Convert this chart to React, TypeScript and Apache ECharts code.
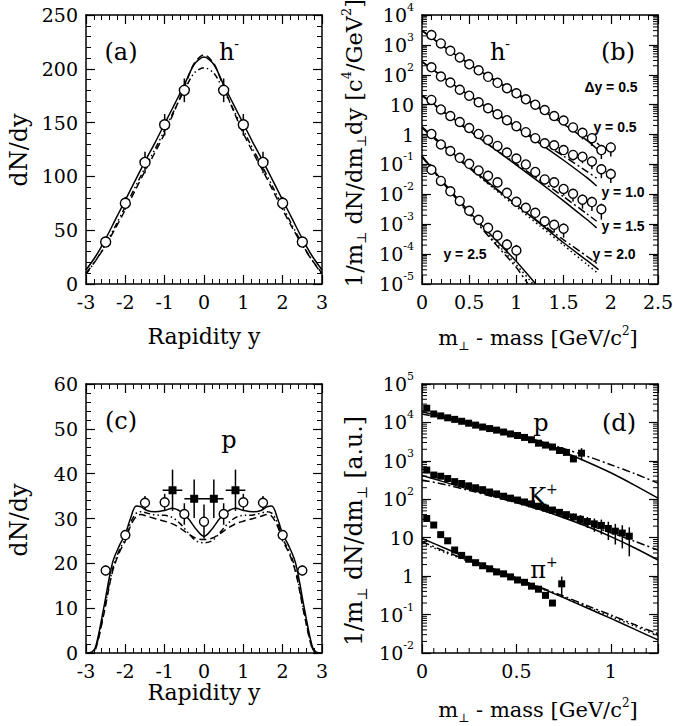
import React, { useEffect, useRef } from 'react';
import * as echarts from 'echarts';

const SERIF = '"DejaVu Serif", "Liberation Serif", serif';
const SANS = '"Liberation Sans", Arial, sans-serif';
const INK = '#000';

// ---------------- Panel (a): h- dN/dy vs rapidity ----------------
const aCurveX = [-3, -2.75, -2.5, -2.25, -2, -1.75, -1.5, -1.25, -1, -0.75, -0.5, -0.25, 0, 0.25, 0.5, 0.75, 1, 1.25, 1.5, 1.75, 2, 2.25, 2.5, 2.75, 3];
const aSolid = [13, 26, 42, 60, 78, 96, 114, 131, 149, 167, 185, 204, 211, 204, 185, 167, 149, 131, 114, 96, 78, 60, 42, 26, 13];
const aDashed = [10, 22, 36, 52, 69, 87, 105, 122, 140, 161, 183, 205, 213, 205, 183, 161, 140, 122, 105, 87, 69, 52, 36, 22, 10];
const aDashDot = [9, 22, 37, 54, 72, 90, 108, 125, 143, 162, 180, 196, 201, 196, 180, 162, 143, 125, 108, 90, 72, 54, 37, 22, 9];
const aDataX = [-2.5, -2, -1.5, -1, -0.5, 0.5, 1, 1.5, 2, 2.5];
const aDataY = [39, 75, 113, 148, 180, 180, 148, 113, 75, 39];
const aDataErr = [3, 6, 10, 10, 11, 11, 10, 10, 6, 3];

// ---------------- Panel (b): h- mT spectra (log10 values) ----------------
const bMtX = [0.1, 0.2, 0.3, 0.4, 0.5, 0.6, 0.7, 0.8, 0.9, 1.0, 1.1, 1.2, 1.3, 1.4, 1.5, 1.6, 1.7, 1.8, 1.9, 2.0];
const bLogY05 = [3.33, 3.05, 2.8, 2.58, 2.35, 2.15, 1.93, 1.73, 1.55, 1.38, 1.18, 1.0, 0.82, 0.62, 0.47, 0.24, 0.06, -0.12, -0.52, -0.43];
const bLogY10 = [2.25, 1.94, 1.74, 1.5, 1.3, 1.08, 0.88, 0.68, 0.48, 0.28, 0.08, -0.12, -0.29, -0.36, -0.52, -0.68, -0.74, -0.9, -1.16, -1.32];
const bLogY15 = [1.16, 0.84, 0.62, 0.42, 0.22, 0.02, -0.18, -0.38, -0.6, -0.8, -1.0, -1.25, -1.5, -1.6, -1.82, -1.98, -2.18, -2.26, -2.5];
const bLogY20 = [0.02, -0.33, -0.55, -0.78, -0.98, -1.2, -1.38, -1.6, -1.95, -2.25, -2.45, -2.62, -2.9, -3.02, -3.15];
const bLogY25 = [-1.18, -1.55, -1.9, -2.22, -2.55, -2.85, -3.12, -3.38, -3.68, -3.88];
const bErr05 = [0, 0, 0, 0, 0, 0, 0, 0, 0, 0, 0, 0, 0, 0, 0, 0.3, 0.4, 0.45, 0.5, 0.5];
const bErr10 = [0, 0, 0, 0, 0, 0, 0, 0, 0, 0, 0, 0, 0, 0, 0.3, 0.35, 0.4, 0.45, 0.5, 0.5];
const bErr15 = [0, 0, 0, 0, 0, 0, 0, 0, 0, 0, 0, 0, 0.3, 0.35, 0.4, 0.45, 0.5, 0.5, 0.55];
const bErr20 = [0, 0, 0, 0, 0, 0, 0, 0, 0, 0, 0.3, 0.35, 0.4, 0.45, 0.5];
const bErr25 = [0, 0, 0, 0, 0, 0, 0.35, 0.4, 0.5, 0.55];
// model curves: [mT - m, log10 value]
const bSolid05 = [[0, 3.48], [0.25, 2.9], [0.5, 2.36], [0.75, 1.85], [1, 1.36], [1.25, 0.86], [1.5, 0.35], [1.75, -0.2], [1.88, -0.55]];
const bAlt05 = [[0, 3.48], [0.25, 2.9], [0.5, 2.37], [0.75, 1.87], [1, 1.39], [1.25, 0.92], [1.5, 0.44], [1.75, -0.05], [1.88, -0.35]];
const bSolid10 = [[0, 2.44], [0.25, 1.86], [0.5, 1.3], [0.75, 0.77], [1, 0.24], [1.25, -0.3], [1.5, -0.86], [1.75, -1.45], [1.85, -1.72]];
const bAlt10 = [[0, 2.44], [0.25, 1.86], [0.5, 1.31], [0.75, 0.79], [1, 0.28], [1.25, -0.22], [1.5, -0.72], [1.75, -1.24], [1.85, -1.46]];
const bSolid15 = [[0, 1.32], [0.25, 0.72], [0.5, 0.14], [0.75, -0.44], [1, -1.02], [1.25, -1.61], [1.5, -2.22], [1.75, -2.85], [1.85, -3.12]];
const bAlt15 = [[0, 1.3], [0.25, 0.7], [0.5, 0.12], [0.75, -0.44], [1, -0.98], [1.25, -1.53], [1.5, -2.08], [1.75, -2.66], [1.85, -2.9]];
const bSolid20 = [[0, 0.26], [0.25, -0.42], [0.5, -1.08], [0.75, -1.72], [1, -2.35], [1.25, -2.98], [1.5, -3.62], [1.75, -4.22], [1.87, -4.52]];
const bAlt20 = [[0, 0.22], [0.25, -0.46], [0.5, -1.12], [0.75, -1.75], [1, -2.35], [1.25, -2.95], [1.5, -3.52], [1.75, -4.08], [1.87, -4.35]];
const bDot20 = [[0, 0.24], [0.25, -0.44], [0.5, -1.12], [0.75, -1.78], [1, -2.42], [1.25, -3.06], [1.5, -3.7], [1.75, -4.35], [1.87, -4.66]];
const bSolid25 = [[0, -0.72], [0.25, -1.68], [0.5, -2.58], [0.75, -3.42], [1, -4.25], [1.2, -4.98]];
const bAlt25 = [[0, -0.75], [0.25, -1.72], [0.5, -2.66], [0.75, -3.56], [1, -4.45], [1.12, -4.98]];
const bDot25 = [[0, -0.74], [0.25, -1.7], [0.5, -2.62], [0.75, -3.5], [1, -4.36], [1.17, -4.98]];

// ---------------- Panel (c): p dN/dy vs rapidity ----------------
const cCurveX = [-3, -2.85, -2.75, -2.55, -2.33, -2.15, -2, -1.87, -1.72, -1.6, -1.45, -1.25, -1, -0.8, -0.6, -0.4, -0.2, 0, 0.2, 0.4, 0.6, 0.8, 1, 1.25, 1.45, 1.6, 1.72, 1.87, 2, 2.15, 2.33, 2.55, 2.75, 2.85, 3];
const cSolid = [0, 0.2, 1.5, 10, 20, 24, 26.5, 30, 32.8, 32.6, 31.8, 31.5, 31.8, 32.3, 31.6, 30, 27.6, 26, 27.6, 30, 31.6, 32.3, 31.8, 31.5, 31.8, 32.6, 32.8, 30, 26.5, 24, 20, 10, 1.5, 0.2, 0];
const cDashed = [0, 0.1, 1, 8.5, 18, 22.5, 25, 28.3, 30.5, 30.9, 30.5, 30, 29.4, 28.8, 27.8, 26.6, 25.6, 25.3, 25.6, 26.6, 27.8, 28.8, 29.4, 30, 30.5, 30.9, 30.5, 28.3, 25, 22.5, 18, 8.5, 1, 0.1, 0];
const cDashDot = [0, 0.1, 1.2, 9, 18.5, 23, 25.5, 29, 31.2, 31.5, 31.2, 30.8, 30.7, 30.2, 28.8, 26.8, 25, 24.6, 25, 26.8, 28.8, 30.2, 30.7, 30.8, 31.2, 31.5, 31.2, 29, 25.5, 23, 18.5, 9, 1.2, 0.1, 0];
const cCircX = [-2.5, -2, -1.5, -1, -0.5, 0, 0.5, 1, 1.5, 2, 2.5];
const cCircY = [18.4, 26.3, 33.5, 33.6, 31.0, 29.3, 31.0, 33.6, 33.5, 26.3, 18.4];
const cCircErr = [1.1, 0.8, 1.5, 1.9, 2.4, 3.8, 2.4, 1.9, 1.5, 0.8, 1.1];
const cSqX = [-0.8, -0.25, 0.25, 0.8];
const cSqY = [36.3, 34.4, 34.4, 36.3];
const cSqXErr = [0.25, 0.25, 0.25, 0.25];
const cSqYErr = [4.6, 4.3, 4.3, 4.6];

// ---------------- Panel (d): p, K+, pi+ mT spectra (log10 values) ----------------
const dPX = [0.025, 0.062, 0.099, 0.136, 0.173, 0.21, 0.247, 0.284, 0.321, 0.358, 0.395, 0.432, 0.469, 0.506, 0.543, 0.58, 0.617, 0.654, 0.691, 0.728, 0.765, 0.802, 0.845];
const dPLog = [4.37, 4.22, 4.17, 4.12, 4.08, 4.03, 3.98, 3.93, 3.88, 3.84, 3.8, 3.75, 3.7, 3.66, 3.61, 3.55, 3.46, 3.41, 3.36, 3.27, 3.22, 3.05, 3.2];
const dPErr = [0, 0, 0, 0, 0, 0, 0, 0, 0, 0, 0, 0, 0, 0, 0, 0, 0, 0, 0, 0, 0, 0, 0.35];
const dKX = [0.025, 0.062, 0.099, 0.136, 0.173, 0.21, 0.247, 0.284, 0.321, 0.358, 0.395, 0.432, 0.469, 0.506, 0.543, 0.58, 0.617, 0.654, 0.691, 0.728, 0.765, 0.802, 0.839, 0.876, 0.913, 0.95, 0.987, 1.024, 1.061, 1.098];
const dKLog = [2.76, 2.63, 2.6, 2.54, 2.46, 2.41, 2.35, 2.3, 2.25, 2.19, 2.14, 2.08, 2.03, 1.98, 1.93, 1.88, 1.82, 1.77, 1.72, 1.66, 1.6, 1.54, 1.48, 1.42, 1.36, 1.32, 1.24, 1.17, 1.12, 1.04];
const dKErr = [0, 0, 0, 0, 0, 0, 0, 0, 0, 0, 0, 0, 0, 0, 0, 0, 0, 0, 0, 0.12, 0.18, 0.22, 0.28, 0.32, 0.38, 0.42, 0.5, 0.55, 0.6, 0.7];
const dPiX = [0.025, 0.062, 0.099, 0.136, 0.173, 0.21, 0.247, 0.284, 0.321, 0.358, 0.395, 0.432, 0.469, 0.506, 0.543, 0.58, 0.617, 0.654, 0.691, 0.74];
const dPiLog = [1.5, 1.33, 1.08, 0.92, 0.68, 0.54, 0.44, 0.35, 0.27, 0.19, 0.11, 0.06, -0.02, -0.1, -0.16, -0.26, -0.34, -0.5, -0.7, -0.2];
const dPiErr = [0, 0, 0, 0, 0, 0, 0, 0, 0, 0, 0, 0, 0, 0, 0, 0, 0, 0, 0, 0.55];
const dPSolid = [[0, 4.28], [0.125, 4.13], [0.25, 3.98], [0.375, 3.83], [0.5, 3.66], [0.625, 3.46], [0.75, 3.23], [0.875, 2.97], [1, 2.69], [1.125, 2.37], [1.25, 2.03]];
const dPAlt = [[0, 4.22], [0.125, 4.1], [0.25, 3.97], [0.375, 3.83], [0.5, 3.68], [0.625, 3.51], [0.75, 3.32], [0.875, 3.12], [1, 2.9], [1.125, 2.67], [1.25, 2.42]];
const dKSolid = [[0, 2.62], [0.125, 2.44], [0.25, 2.26], [0.375, 2.09], [0.5, 1.92], [0.625, 1.73], [0.75, 1.52], [0.875, 1.29], [1, 1.03], [1.125, 0.74], [1.25, 0.42]];
const dKAlt = [[0, 2.5], [0.125, 2.38], [0.25, 2.23], [0.375, 2.07], [0.5, 1.91], [0.625, 1.73], [0.75, 1.54], [0.875, 1.34], [1, 1.13], [1.125, 0.91], [1.25, 0.68]];
const dPiSolid = [[0, 0.98], [0.125, 0.72], [0.25, 0.45], [0.375, 0.2], [0.5, -0.05], [0.625, -0.3], [0.75, -0.56], [0.875, -0.83], [1, -1.1], [1.125, -1.38], [1.25, -1.66]];
const dPiAlt = [[0, 0.9], [0.125, 0.64], [0.25, 0.4], [0.375, 0.17], [0.5, -0.06], [0.625, -0.29], [0.75, -0.52], [0.875, -0.77], [1, -1.01], [1.125, -1.26], [1.25, -1.5]];
const dPiDot = [[0, 0.86], [0.125, 0.61], [0.25, 0.38], [0.375, 0.16], [0.5, -0.07], [0.625, -0.31], [0.75, -0.55], [0.875, -0.8], [1, -1.05], [1.125, -1.3], [1.25, -1.55]];

// ---------------- layout ----------------
const GRIDS = [
  { left: 86, top: 15, width: 236, height: 269 },
  { left: 422, top: 15, width: 236, height: 269 },
  { left: 86, top: 384, width: 236, height: 269 },
  { left: 422, top: 384, width: 236, height: 269 },
];

const DASH = [7, 4];
const DASHDOT = [8, 3, 2, 3];
const DASHDOTDOT = [6, 3, 1.5, 3, 1.5, 3];
const DOTTED = [1.5, 3];

const pow10 = (v: number) => Math.pow(10, v);

function baseAxis(g: number, position: string, showLabel: boolean) {
  return {
    gridIndex: g,
    position,
    axisLine: { show: true, onZero: false, lineStyle: { color: INK, width: 1.5 } },
    axisTick: { show: true, inside: true, length: 9, lineStyle: { color: INK, width: 1.2 } },
    splitLine: { show: false },
    minorSplitLine: { show: false },
    axisLabel: { show: showLabel, color: INK, fontFamily: SERIF, fontSize: 19, margin: 8 },
  };
}

function linAxis(g: number, position: string, min: number, max: number, interval: number, minor: number, showLabel: boolean, formatter?: any) {
  const b: any = baseAxis(g, position, showLabel);
  if (formatter) b.axisLabel.formatter = formatter;
  return {
    ...b,
    type: 'value',
    min,
    max,
    interval,
    minorTick: { show: minor > 0, splitNumber: minor || 5, length: 5, lineStyle: { color: INK, width: 1 } },
  };
}

function logLabel(v: number) {
  const e = Math.round(Math.log10(v));
  if (e === 0) return '1';
  if (e === 1) return '10';
  return `{b|10}{s|${e}}`;
}

function logAxis(g: number, position: string, min: number, max: number, showLabel: boolean) {
  const b: any = baseAxis(g, position, showLabel);
  b.axisLabel.formatter = logLabel;
  b.axisLabel.rich = {
    b: { fontFamily: SERIF, fontSize: 19, color: INK, lineHeight: 26 },
    s: { fontFamily: SERIF, fontSize: 11, color: INK, lineHeight: 11, verticalAlign: 'top' },
  };
  return { ...b, type: 'log', logBase: 10, min, max, minorTick: { show: false } };
}

function lineSeries(g: number, data: number[][], type: any, smooth = 0.3) {
  return {
    type: 'line',
    xAxisIndex: g,
    yAxisIndex: g,
    data,
    showSymbol: false,
    symbol: 'none',
    smooth,
    silent: true,
    z: 3,
    lineStyle: { color: INK, width: 1.5, type, opacity: 1 },
  };
}

function scatterSeries(g: number, data: number[][], kind: 'open' | 'square', size: number) {
  return {
    type: 'scatter',
    xAxisIndex: g,
    yAxisIndex: g,
    data,
    symbol: kind === 'open' ? 'circle' : 'rect',
    symbolSize: size,
    silent: true,
    z: 5,
    itemStyle:
      kind === 'open'
        ? { color: '#fff', borderColor: INK, borderWidth: 1.4, opacity: 1 }
        : { color: INK, borderColor: INK, borderWidth: 0, opacity: 1 },
  };
}

// rows: [x, lo, hi]
function vErrSeries(g: number, rows: number[][]) {
  return {
    type: 'custom',
    xAxisIndex: g,
    yAxisIndex: g,
    silent: true,
    z: 4,
    data: rows,
    renderItem: (_p: any, api: any) => {
      const a = api.coord([api.value(0), api.value(1)]);
      const b = api.coord([api.value(0), api.value(2)]);
      return { type: 'line', shape: { x1: a[0], y1: a[1], x2: b[0], y2: b[1] }, style: { stroke: INK, lineWidth: 1.5 } };
    },
  };
}

// rows: [y, xlo, xhi]
function hErrSeries(g: number, rows: number[][]) {
  return {
    type: 'custom',
    xAxisIndex: g,
    yAxisIndex: g,
    silent: true,
    z: 4,
    data: rows.map((r) => [r[1], r[0], r[2]]),
    renderItem: (_p: any, api: any) => {
      const a = api.coord([api.value(0), api.value(1)]);
      const b = api.coord([api.value(2), api.value(1)]);
      return { type: 'line', shape: { x1: a[0], y1: a[1], x2: b[0], y2: b[1] }, style: { stroke: INK, lineWidth: 1.5 } };
    },
  };
}

function minorTicksY(g: number, xL: number, xR: number, values: number[]) {
  return {
    type: 'custom',
    xAxisIndex: g,
    yAxisIndex: g,
    silent: true,
    z: 6,
    data: values.map((v) => [xL, v]),
    renderItem: (_p: any, api: any) => {
      const v = api.value(1);
      const a = api.coord([xL, v]);
      const b = api.coord([xR, v]);
      return {
        type: 'group',
        children: [
          { type: 'line', shape: { x1: a[0], y1: a[1], x2: a[0] + 5, y2: a[1] }, style: { stroke: INK, lineWidth: 1 } },
          { type: 'line', shape: { x1: b[0], y1: b[1], x2: b[0] - 5, y2: b[1] }, style: { stroke: INK, lineWidth: 1 } },
        ],
      };
    },
  };
}

function minorTicksX(g: number, yB: number, yT: number, values: number[]) {
  return {
    type: 'custom',
    xAxisIndex: g,
    yAxisIndex: g,
    silent: true,
    z: 6,
    data: values.map((v) => [v, yB]),
    renderItem: (_p: any, api: any) => {
      const v = api.value(0);
      const a = api.coord([v, yB]);
      const b = api.coord([v, yT]);
      return {
        type: 'group',
        children: [
          { type: 'line', shape: { x1: a[0], y1: a[1], x2: a[0], y2: a[1] - 5 }, style: { stroke: INK, lineWidth: 1 } },
          { type: 'line', shape: { x1: b[0], y1: b[1], x2: b[0], y2: b[1] + 5 }, style: { stroke: INK, lineWidth: 1 } },
        ],
      };
    },
  };
}

function logMinorValues(eMin: number, eMax: number) {
  const out: number[] = [];
  for (let e = eMin; e < eMax; e++) for (let m = 2; m <= 9; m++) out.push(m * Math.pow(10, e));
  return out;
}

const zip = (xs: number[], ys: number[]) => xs.map((x, i) => [x, ys[i]]);
const zipLog = (xs: number[], ls: number[]) => xs.map((x, i) => [x, pow10(ls[i])]);
const curveLog = (pts: number[][]) => pts.map((p) => [p[0], pow10(p[1])]);
const logErrRows = (xs: number[], ls: number[], rs: number[]) =>
  xs
    .map((x, i) => {
      const v = pow10(ls[i]);
      return [x, v * (1 - rs[i]), v * (1 + rs[i]), rs[i]];
    })
    .filter((r) => r[3] > 0)
    .map((r) => [r[0], r[1], r[2]]);

// rich-text styles for graphic labels
function richFor(size: number, hasScript: boolean) {
  const small = Math.round(size * 0.58);
  return {
    n: { fontFamily: SERIF, fontSize: size, fill: INK, lineHeight: hasScript ? size + 6 : size },
    sub: { fontFamily: SERIF, fontSize: small, fill: INK, lineHeight: small, verticalAlign: 'bottom' },
    sup: { fontFamily: SERIF, fontSize: small, fill: INK, lineHeight: small, verticalAlign: 'top' },
  };
}

function richText(x: number, y: number, text: string, size: number, rotation = 0) {
  const hasScript = text.indexOf('{sub|') >= 0 || text.indexOf('{sup|') >= 0;
  return {
    type: 'text',
    x,
    y,
    rotation,
    silent: true,
    z: 10,
    style: {
      text,
      rich: richFor(size, hasScript),
      align: 'center',
      textAlign: 'center',
      verticalAlign: 'middle',
      textVerticalAlign: 'middle',
      fill: INK,
    },
  };
}

function sansText(x: number, y: number, text: string) {
  return {
    type: 'text',
    x,
    y,
    silent: true,
    z: 10,
    style: {
      text,
      fontFamily: SANS,
      fontSize: 14,
      fontWeight: 'bold',
      fill: INK,
      align: 'center',
      textAlign: 'center',
      verticalAlign: 'middle',
      textVerticalAlign: 'middle',
    },
  };
}

function buildOption() {
  const halfOnly = (v: number) => (Math.abs(v * 2 - Math.round(v * 2)) < 1e-6 ? String(v) : '');
  const dMinorX: number[] = [];
  for (let k = 1; k * 0.0625 < 1.25 - 1e-9; k++) if (k % 8 !== 0) dMinorX.push(k * 0.0625);

  const series: any[] = [
    // (a)
    lineSeries(0, zip(aCurveX, aSolid), 'solid'),
    lineSeries(0, zip(aCurveX, aDashed), DASH),
    lineSeries(0, zip(aCurveX, aDashDot), DASHDOTDOT),
    vErrSeries(0, aDataX.map((x, i) => [x, aDataY[i] - aDataErr[i], aDataY[i] + aDataErr[i]])),
    scatterSeries(0, zip(aDataX, aDataY), 'open', 10),

    // (b)
    lineSeries(1, curveLog(bSolid05), 'solid', 0.2),
    lineSeries(1, curveLog(bAlt05), DASHDOT, 0.2),
    lineSeries(1, curveLog(bSolid10), 'solid', 0.2),
    lineSeries(1, curveLog(bAlt10), DASHDOT, 0.2),
    lineSeries(1, curveLog(bSolid15), 'solid', 0.2),
    lineSeries(1, curveLog(bAlt15), DASHDOT, 0.2),
    lineSeries(1, curveLog(bSolid20), 'solid', 0.2),
    lineSeries(1, curveLog(bAlt20), DASHDOT, 0.2),
    lineSeries(1, curveLog(bDot20), DOTTED, 0.2),
    lineSeries(1, curveLog(bSolid25), 'solid', 0.2),
    lineSeries(1, curveLog(bAlt25), DASHDOT, 0.2),
    lineSeries(1, curveLog(bDot25), DOTTED, 0.2),
    vErrSeries(1, [
      ...logErrRows(bMtX, bLogY05, bErr05),
      ...logErrRows(bMtX, bLogY10, bErr10),
      ...logErrRows(bMtX, bLogY15, bErr15),
      ...logErrRows(bMtX, bLogY20, bErr20),
      ...logErrRows(bMtX, bLogY25, bErr25),
    ]),
    scatterSeries(1, zipLog(bMtX, bLogY05), 'open', 9),
    scatterSeries(1, zipLog(bMtX, bLogY10), 'open', 9),
    scatterSeries(1, zipLog(bMtX, bLogY15), 'open', 9),
    scatterSeries(1, zipLog(bMtX, bLogY20), 'open', 9),
    scatterSeries(1, zipLog(bMtX, bLogY25), 'open', 9),
    minorTicksY(1, 0, 2.5, logMinorValues(-5, 4)),

    // (c)
    lineSeries(2, zip(cCurveX, cSolid), 'solid', 0.35),
    lineSeries(2, zip(cCurveX, cDashed), DASH, 0.35),
    lineSeries(2, zip(cCurveX, cDashDot), DASHDOTDOT, 0.35),
    vErrSeries(2, cCircX.map((x, i) => [x, cCircY[i] - cCircErr[i], cCircY[i] + cCircErr[i]])),
    vErrSeries(2, cSqX.map((x, i) => [x, cSqY[i] - cSqYErr[i], cSqY[i] + cSqYErr[i]])),
    hErrSeries(2, cSqX.map((x, i) => [cSqY[i], x - cSqXErr[i], x + cSqXErr[i]])),
    scatterSeries(2, zip(cCircX, cCircY), 'open', 9),
    scatterSeries(2, zip(cSqX, cSqY), 'square', 8),

    // (d)
    lineSeries(3, curveLog(dPSolid), 'solid', 0.3),
    lineSeries(3, curveLog(dPAlt), DASHDOT, 0.3),
    lineSeries(3, curveLog(dKSolid), 'solid', 0.3),
    lineSeries(3, curveLog(dKAlt), DASHDOT, 0.3),
    lineSeries(3, curveLog(dPiSolid), 'solid', 0.3),
    lineSeries(3, curveLog(dPiAlt), DASHDOT, 0.3),
    lineSeries(3, curveLog(dPiDot), DOTTED, 0.3),
    vErrSeries(3, [
      ...logErrRows(dPX, dPLog, dPErr),
      ...logErrRows(dKX, dKLog, dKErr),
      ...logErrRows(dPiX, dPiLog, dPiErr),
    ]),
    scatterSeries(3, zipLog(dPX, dPLog), 'square', 7),
    scatterSeries(3, zipLog(dKX, dKLog), 'square', 7),
    scatterSeries(3, zipLog(dPiX, dPiLog), 'square', 7),
    minorTicksY(3, 0, 1.25, logMinorValues(-2, 5)),
    minorTicksX(3, 1e-2, 1e5, dMinorX),
  ];

  const bName = '{n|1/m}{sub|⊥}{n| dN/dm}{sub|⊥}{n|dy [c}{sup|4}{n|/GeV}{sup|2}{n|]}';
  const dName = '{n|1/m}{sub|⊥}{n| dN/dm}{sub|⊥}{n| [a.u.]}';
  const mtName = '{n|m}{sub|⊥}{n| - mass [GeV/c}{sup|2}{n|]}';
  const UP = Math.PI / 2;

  const graphics: any[] = [
    // axis titles
    richText(19, 150, '{n|dN/dy}', 24, UP),
    richText(204, 336, '{n|Rapidity y}', 22),
    richText(354, 143, bName, 22.5, UP),
    richText(538, 338, mtName, 21),
    richText(19, 520, '{n|dN/dy}', 24, UP),
    richText(204, 692, '{n|Rapidity y}', 22),
    richText(354, 531, dName, 23.5, UP),
    richText(538, 710, mtName, 21),
    // panel labels
    richText(121, 52, '{n|(a)}', 24),
    richText(229, 52, '{n|h}{sup|-}', 24),
    richText(500, 52, '{n|h}{sup|-}', 24),
    richText(618, 52, '{n|(b)}', 24),
    richText(121, 421, '{n|(c)}', 24),
    richText(229, 440, '{n|p}', 24),
    richText(541, 423, '{n|p}', 24),
    richText(619, 423, '{n|(d)}', 24),
    richText(543, 497, '{n|K}{sup|+}', 24),
    richText(544, 570, '{n|π}{sup|+}', 24),
    // rapidity bins in (b)
    sansText(611, 87, 'Δy = 0.5'),
    sansText(615, 127, 'y = 0.5'),
    sansText(623, 192, 'y = 1.0'),
    sansText(623, 226, 'y = 1.5'),
    sansText(614, 254, 'y = 2.0'),
    sansText(465, 254, 'y = 2.5'),
  ];

  return {
    animation: false,
    backgroundColor: '#fff',
    grid: GRIDS.map((g) => ({ ...g, containLabel: false, outerBoundsMode: 'none' })),
    xAxis: [
      linAxis(0, 'bottom', -3, 3, 1, 5, true),
      linAxis(1, 'bottom', 0, 2.5, 0.5, 5, true),
      linAxis(2, 'bottom', -3, 3, 1, 5, true),
      linAxis(3, 'bottom', 0, 1.25, 0.5, 0, true, halfOnly),
      linAxis(0, 'top', -3, 3, 1, 5, false),
      linAxis(1, 'top', 0, 2.5, 0.5, 5, false),
      linAxis(2, 'top', -3, 3, 1, 5, false),
      linAxis(3, 'top', 0, 1.25, 0.5, 0, false),
    ],
    yAxis: [
      linAxis(0, 'left', 0, 250, 50, 5, true),
      logAxis(1, 'left', 1e-5, 1e4, true),
      linAxis(2, 'left', 0, 60, 10, 5, true),
      logAxis(3, 'left', 1e-2, 1e5, true),
      linAxis(0, 'right', 0, 250, 50, 5, false),
      logAxis(1, 'right', 1e-5, 1e4, false),
      linAxis(2, 'right', 0, 60, 10, 5, false),
      logAxis(3, 'right', 1e-2, 1e5, false),
    ],
    series,
    graphic: { elements: graphics },
  };
}

export default function App() {
  const ref = useRef<HTMLDivElement>(null);
  useEffect(() => {
    if (!ref.current) return;
    const chart = echarts.init(ref.current, null, { renderer: 'svg' });
    chart.setOption(buildOption() as any);
    return () => chart.dispose();
  }, []);
  return (
    <div
      ref={ref}
      style={{ position: 'absolute', left: 0, top: 0, width: 673, height: 726, background: '#fff' }}
    />
  );
}
